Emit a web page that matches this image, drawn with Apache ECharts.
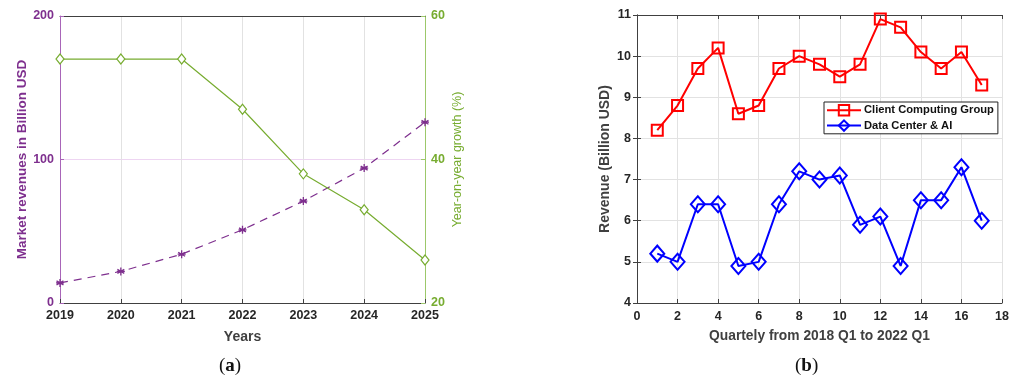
<!DOCTYPE html>
<html>
<head>
<meta charset="utf-8">
<script src="https://cdn.jsdelivr.net/npm/echarts@6/dist/echarts.min.js"></script>
<style>html,body{margin:0;padding:0;background:#fff;}#c{width:1019px;height:383px;}</style>
</head>
<body>
<div id="c"></div>
<script>
// Panel (a)
const years = ['2019','2020','2021','2022','2023','2024','2025'];
const marketRevenue = [14, 22, 34, 51, 71, 94, 126];
const yoyGrowth = [54, 54, 54, 47, 38, 33, 26];
// Panel (b)
const quarters = [1,2,3,4,5,6,7,8,9,10,11,12,13,14,15,16,17];
const clientComputing = [8.2, 8.8, 9.7, 10.2, 8.6, 8.8, 9.7, 10.0, 9.8, 9.5, 9.8, 10.9, 10.7, 10.1, 9.7, 10.1, 9.3];
const dataCenter = [5.2, 5.0, 6.4, 6.4, 4.9, 5.0, 6.4, 7.2, 7.0, 7.1, 5.9, 6.1, 4.9, 6.5, 6.5, 7.3, 6.0];

const FONT = 'Liberation Sans';
const purple = '#7E2F8E';
const purpleAxis = '#A865B8';
const green = '#77AC30';
const greenAxis = '#9CC86A';
const dark = '#262626';

const asterisk = 'path://M0,-5L0,5M-4.33,-2.5L4.33,2.5M-4.33,2.5L4.33,-2.5M-5,0L5,0';

const chart = echarts.init(document.getElementById('c'), null, {renderer: 'canvas'});
chart.setOption({
  backgroundColor: '#fff',
  animation: false,
  grid: [
    {left: 60, right: 594, top: 16, bottom: 80},
    {left: 637, right: 17, top: 15, bottom: 80}
  ],
  legend: {
    data: ['Client Computing Group', 'Data Center & AI'],
    left: 824, top: 102, orient: 'vertical',
    itemWidth: 34, itemHeight: 13, itemGap: 3,
    padding: [2, 4, 2, 2],
    borderColor: '#222', borderWidth: 1, backgroundColor: '#fff',
    textStyle: {fontFamily: FONT, fontWeight: 'bold', fontSize: 11.2, color: '#111', padding: [0,0,0,-2]}
  },
  xAxis: [
    {
      gridIndex: 0, type: 'category', data: years, boundaryGap: false,
      name: 'Years', nameLocation: 'middle', nameGap: 27,
      nameTextStyle: {fontFamily: FONT, fontWeight: 'bold', fontSize: 14, color: '#404040'},
      axisLine: {lineStyle: {color: '#404040', width: 1}},
      axisTick: {show: true, inside: true, length: 4, lineStyle: {color: '#404040'}},
      axisLabel: {fontFamily: FONT, fontWeight: 'bold', fontSize: 12.5, color: dark, margin: 6},
      splitLine: {show: true, lineStyle: {color: '#e2e2e2', width: 1}}
    },
    {
      gridIndex: 0, type: 'category', data: years, boundaryGap: false, position: 'top',
      axisLine: {lineStyle: {color: '#404040', width: 1}},
      axisTick: {show: false}, axisLabel: {show: false}, splitLine: {show: false}
    },
    {
      gridIndex: 1, type: 'value', min: 0, max: 18, interval: 2,
      name: 'Quartely from 2018 Q1 to 2022 Q1', nameLocation: 'middle', nameGap: 26,
      nameTextStyle: {fontFamily: FONT, fontWeight: 'bold', fontSize: 13.8, color: '#404040'},
      axisLine: {lineStyle: {color: '#404040', width: 1}},
      axisTick: {show: true, inside: true, length: 4, lineStyle: {color: '#404040'}},
      axisLabel: {fontFamily: FONT, fontWeight: 'bold', fontSize: 12.5, color: dark, margin: 7},
      splitLine: {show: true, lineStyle: {color: '#e2e2e2', width: 1}}
    },
    {
      gridIndex: 1, type: 'value', min: 0, max: 18, interval: 2, position: 'top',
      axisLine: {lineStyle: {color: '#404040', width: 1}},
      axisTick: {show: true, inside: true, length: 4, lineStyle: {color: '#404040'}},
      axisLabel: {show: false}, splitLine: {show: false}
    }
  ],
  yAxis: [
    {
      gridIndex: 0, type: 'value', min: 0, max: 200, interval: 100,
      name: 'Market revenues in Billion USD', nameLocation: 'middle', nameGap: 31,
      nameTextStyle: {fontFamily: FONT, fontWeight: 'bold', fontSize: 13.5, color: purple},
      axisLine: {show: true, lineStyle: {color: purpleAxis, width: 1}},
      axisTick: {show: true, inside: true, length: 4, lineStyle: {color: purpleAxis}},
      axisLabel: {fontFamily: FONT, fontWeight: 'bold', fontSize: 12.5, color: purple, margin: 6},
      splitLine: {show: true, lineStyle: {color: '#EED5F2', width: 1}}
    },
    {
      gridIndex: 0, type: 'value', min: 20, max: 60, interval: 20, position: 'right',
      name: 'Year-on-year growth (%)', nameLocation: 'middle', nameGap: 26, nameRotate: 90,
      nameTextStyle: {fontFamily: FONT, fontSize: 12.5, color: green},
      axisLine: {show: true, lineStyle: {color: greenAxis, width: 1}},
      axisTick: {show: true, inside: true, length: 4, lineStyle: {color: greenAxis}},
      axisLabel: {fontFamily: FONT, fontWeight: 'bold', fontSize: 12.5, color: green, margin: 6},
      splitLine: {show: false}
    },
    {
      gridIndex: 1, type: 'value', min: 4, max: 11, interval: 1,
      name: 'Revenue (Billion USD)', nameLocation: 'middle', nameGap: 25,
      nameTextStyle: {fontFamily: FONT, fontWeight: 'bold', fontSize: 14, color: '#404040'},
      axisLine: {show: true, lineStyle: {color: '#404040', width: 1}},
      axisTick: {show: true, inside: true, length: 4, lineStyle: {color: '#404040'}},
      axisLabel: {fontFamily: FONT, fontWeight: 'bold', fontSize: 12.5, color: dark, margin: 6},
      splitLine: {show: true, lineStyle: {color: '#e2e2e2', width: 1}}
    },
    {
      gridIndex: 1, type: 'value', min: 4, max: 11, interval: 1, position: 'right',
      axisLine: {show: true, lineStyle: {color: '#404040', width: 1}},
      axisTick: {show: true, inside: true, length: 4, lineStyle: {color: '#404040'}},
      axisLabel: {show: false}, splitLine: {show: false}
    }
  ],
  series: [
    {
      name: 'Market revenues', type: 'line', xAxisIndex: 0, yAxisIndex: 0,
      data: marketRevenue,
      lineStyle: {color: purple, width: 1.2, type: [8, 6]},
      symbol: asterisk, symbolSize: 8,
      itemStyle: {color: 'none', borderColor: purple, borderWidth: 1.3},
      z: 3
    },
    {
      name: 'YoY growth', type: 'line', xAxisIndex: 0, yAxisIndex: 1,
      data: yoyGrowth,
      lineStyle: {color: green, width: 1.2},
      symbol: 'diamond', symbolSize: [8, 10],
      itemStyle: {color: '#fff', borderColor: green, borderWidth: 1.2},
      z: 3
    },
    {
      name: 'Client Computing Group', type: 'line', xAxisIndex: 2, yAxisIndex: 2,
      data: quarters.map((q, i) => [q, clientComputing[i]]),
      lineStyle: {color: '#ff0000', width: 2},
      symbol: 'rect', symbolSize: 11,
      itemStyle: {color: 'rgba(255,255,255,0)', borderColor: '#ff0000', borderWidth: 2},
      z: 3
    },
    {
      name: 'Data Center & AI', type: 'line', xAxisIndex: 2, yAxisIndex: 2,
      data: quarters.map((q, i) => [q, dataCenter[i]]),
      lineStyle: {color: '#0000ff', width: 2},
      symbol: 'diamond', symbolSize: [14, 16],
      itemStyle: {color: 'rgba(255,255,255,0)', borderColor: '#0000ff', borderWidth: 2},
      z: 3
    }
  ],
  graphic: [
    {
      type: 'text', left: 219, top: 357,
      style: {
        text: '{p|(}{b|a}{p|)}',
        rich: {
          p: {fontFamily: 'Liberation Serif', fontSize: 19, fill: '#111'},
          b: {fontFamily: 'Liberation Serif', fontSize: 19, fontWeight: 'bold', fill: '#111'}
        }
      }
    },
    {
      type: 'text', left: 795, top: 357,
      style: {
        text: '{p|(}{b|b}{p|)}',
        rich: {
          p: {fontFamily: 'Liberation Serif', fontSize: 19, fill: '#111'},
          b: {fontFamily: 'Liberation Serif', fontSize: 19, fontWeight: 'bold', fill: '#111'}
        }
      }
    }
  ]
});
</script>
</body>
</html>
